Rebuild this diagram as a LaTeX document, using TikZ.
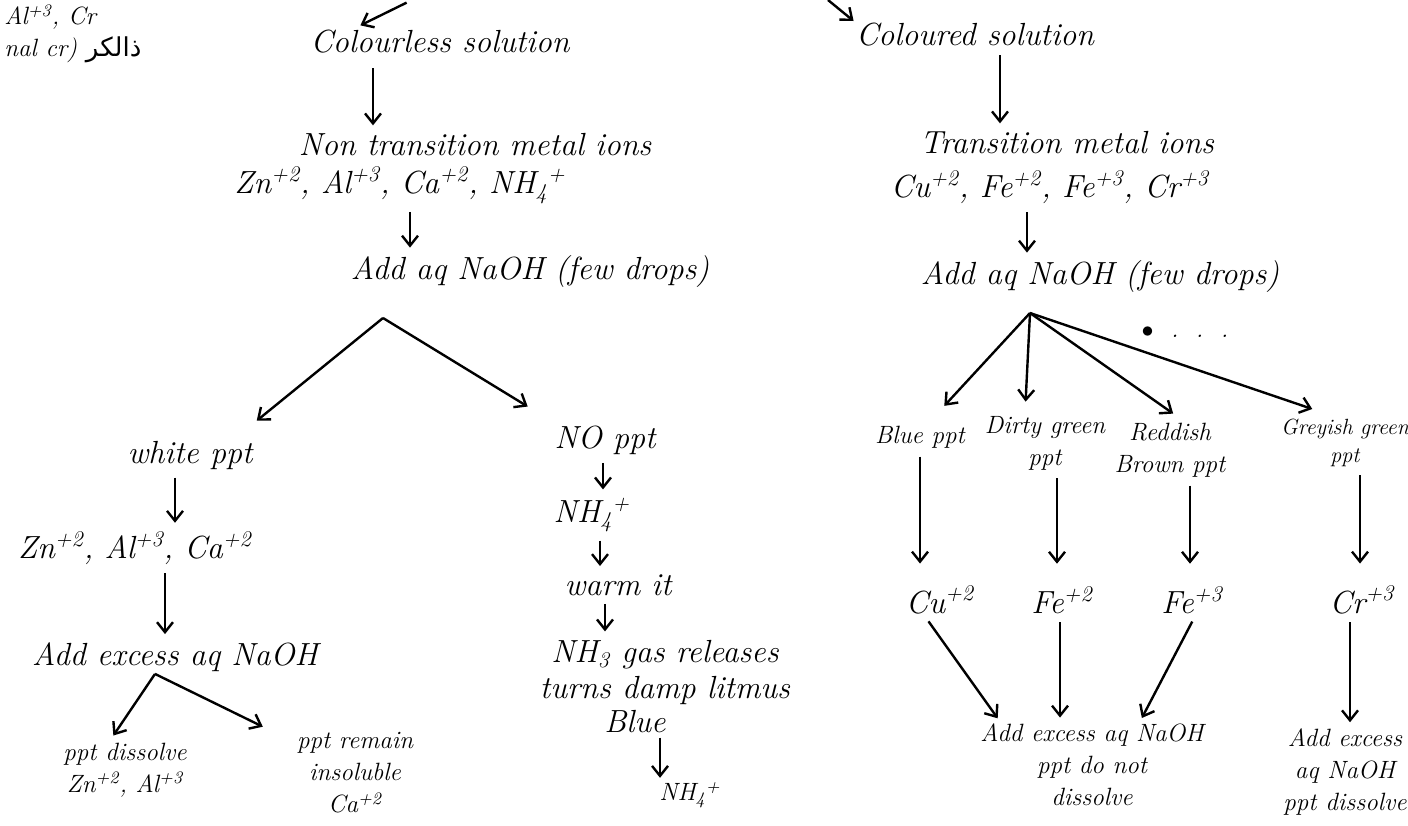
\documentclass[tikz,border=0pt]{standalone}
\usepackage{fontspec}
\newfontfamily\arabicfont[Script=Arabic]{DejaVu Sans}
\TeXXeTstate=1
\usetikzlibrary{arrows.meta}
\begin{document}
\begin{tikzpicture}[x=0.5pt,y=-0.5pt,
  lbl/.style={font=\fontsize{16}{18}\selectfont\itshape, align=center, inner sep=1pt},
  sm/.style={font=\fontsize{12.5}{16}\selectfont\itshape, align=center, inner sep=1pt},
  xs/.style={font=\fontsize{11}{14}\selectfont\itshape, align=center, inner sep=1pt},
  arr/.style={-{Straight Barb[length=5pt,width=8pt]}, line width=1.2pt, shorten <=3pt, shorten >=3pt}]
\useasboundingbox[fill=white] (0,0) rectangle (1408,825);

% top-left fragment
\node[sm,anchor=west] (frag1) at (2,17) {Al\textsuperscript{+3}, Cr};
\node[sm,anchor=west] (frag2) at (2,50) {nal cr) {\upshape\arabicfont\fontsize{13}{15}\selectfont\beginR ذالکر\endR}};

% left branch
\coordinate (in1) at (412,0);
\node[lbl] (cls) at (440,42) {Colourless solution};
\node[lbl] (ntm) at (475,145) {Non transition metal ions};
\node[lbl] (ntmi) at (400,185) {Zn\textsuperscript{+2}, Al\textsuperscript{+3}, Ca\textsuperscript{+2}, NH\textsubscript{4}\textsuperscript{+}};
\node[lbl] (add1) at (530,272) {Add aq NaOH (few drops)};
\coordinate (b1) at (383,318);
\node[lbl] (wppt) at (190,455) {white ppt};
\node[lbl] (ions2) at (135,548) {Zn\textsuperscript{+2}, Al\textsuperscript{+3}, Ca\textsuperscript{+2}};
\node[lbl] (ex1) at (175,657) {Add excess aq NaOH};
\node[sm] (dis) at (125,770) {ppt dissolve\\Zn\textsuperscript{+2}, Al\textsuperscript{+3}};
\node[sm] (rem) at (355,773) {ppt remain\\insoluble\\Ca\textsuperscript{+2}};

\node[lbl] (noppt) at (605,440) {NO ppt};
\node[lbl] (nh4a) at (592,515) {NH\textsubscript{4}\textsuperscript{+}};
\node[lbl] (warm) at (618,585) {warm it};
\node[lbl] (nh3) at (665,672) {NH\textsubscript{3} gas releases\\turns damp litmus};
\node[lbl] (blue2) at (635,722) {Blue};
\node[sm] (nh4b) at (690,795) {NH\textsubscript{4}\textsuperscript{+}};

\draw[arr] (in1) -- (cls.north -| 355,0);
\draw[arr,shorten <=6pt] (cls.south -| 373,0) -- (ntm.north -| 373,0);
\draw[arr] (ntmi.south -| 410,0) -- (add1.north -| 410,0);
\draw[arr,shorten <=0pt,shorten >=14pt] (b1) -- (wppt.north -| 235,0);
\draw[arr,shorten <=0pt,shorten >=16pt] (b1) -- (noppt.north -| 555,0);
\draw[arr] (wppt.south -| 175,0) -- (ions2.north -| 175,0);
\draw[arr] (ions2.south -| 165,0) -- (ex1.north -| 165,0);
\draw[arr,shorten <=0pt] (ex1.south -| 155,0) -- (dis.north -| 110,0);
\draw[arr,shorten <=0pt,shorten >=4pt] (ex1.south -| 155,0) -- (rem.north -| 270,0);
\draw[arr] (noppt.south -| 603,0) -- (nh4a.north -| 603,0);
\draw[arr] (nh4a.south -| 600,0) -- (warm.north -| 600,0);
\draw[arr] (warm.south -| 605,0) -- (nh3.north -| 605,0);
\draw[arr,shorten <=1pt,shorten >=1pt] (blue2.south -| 660,0) -- (nh4b.north -| 660,0);

% right branch
\coordinate (in2) at (828,0);
\node[lbl] (cs) at (975,35) {Coloured solution};
\node[lbl] (tm) at (1067,143) {Transition metal ions};
\node[lbl] (tmi) at (1050,187) {Cu\textsuperscript{+2}, Fe\textsuperscript{+2}, Fe\textsuperscript{+3}, Cr\textsuperscript{+3}};
\node[lbl] (add2) at (1100,277) {Add aq NaOH (few drops)};
\coordinate (b2) at (1030,313);
\node[sm] (dots) at (1185,332) {$\bullet$\ \ .\ \ .\ \ .};
\node[sm] (bppt) at (920,437) {Blue ppt};
\node[sm] (dg) at (1045,443) {Dirty green\\ppt};
\node[sm] (rb) at (1170,450) {Reddish\\Brown ppt};
\node[xs] (gg) at (1345,443) {Greyish green\\ppt};
\node[lbl] (cu) at (940,600) {Cu\textsuperscript{+2}};
\node[lbl] (fe2) at (1062,600) {Fe\textsuperscript{+2}};
\node[lbl] (fe3) at (1192,600) {Fe\textsuperscript{+3}};
\node[lbl] (cr) at (1362,600) {Cr\textsuperscript{+3}};
\node[sm] (ex2) at (1092,765) {Add excess aq NaOH\\ppt do not\\dissolve};
\node[sm] (ex3) at (1345,772) {Add excess\\aq NaOH\\ppt dissolve};

\draw[arr,shorten <=0pt,shorten >=0pt] (in2) -- (cs.north west);
\draw[arr] (cs.south -| 1000,0) -- (tm.north -| 1000,0);
\draw[arr] (tmi.south -| 1027,0) -- (add2.north -| 1027,0);
\draw[arr,shorten <=0pt,shorten >=12pt] (b2) -- (bppt.north -| 928,0);
\draw[arr,shorten <=0pt,shorten >=6pt] (b2) -- (dg.north -| 1025,0);
\draw[arr,shorten <=0pt,shorten >=6pt] (b2) -- (rb.north -| 1183,0);
\draw[arr,shorten <=0pt,shorten >=12pt] (b2) -- (gg.north -| 1335,0);
\draw[arr,shorten >=10pt] (bppt.south -| 920,0) -- (cu.north -| 920,0);
\draw[arr,shorten >=10pt] (dg.south -| 1057,0) -- (fe2.north -| 1057,0);
\draw[arr,shorten >=10pt] (rb.south -| 1190,0) -- (fe3.north -| 1190,0);
\draw[arr,shorten >=10pt] (gg.south -| 1360,0) -- (cr.north -| 1360,0);
\draw[arr,shorten >=2pt] (cu.south -| 925,0) -- (ex2.north -| 1000,0);
\draw[arr,shorten >=2pt] (fe2.south -| 1060,0) -- (ex2.north -| 1060,0);
\draw[arr,shorten >=2pt] (fe3.south -| 1195,0) -- (ex2.north -| 1140,0);
\draw[arr,shorten >=2pt] (cr.south -| 1350,0) -- (ex3.north -| 1350,0);
\end{tikzpicture}
\end{document}
